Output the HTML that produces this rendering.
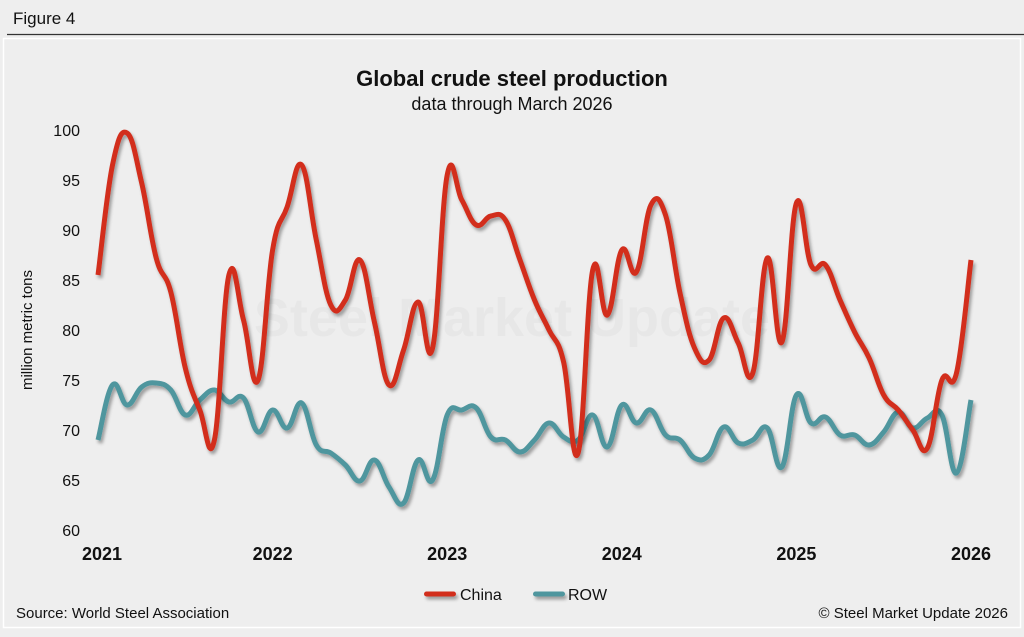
<!DOCTYPE html>
<html><head><meta charset="utf-8"><style>
html,body{margin:0;padding:0;background:#eeeeee;}
body{width:1024px;height:632px;overflow:hidden;font-family:"Liberation Sans",Arial,sans-serif;}
</style></head><body>
<svg id="chart" width="1024" height="632" xmlns="http://www.w3.org/2000/svg" font-family="Liberation Sans, Arial, sans-serif">
<defs>
<filter id="sh" filterUnits="userSpaceOnUse" x="0" y="0" width="1024" height="632"><feDropShadow dx="2" dy="3" stdDeviation="1.6" flood-color="#000" flood-opacity="0.35"/></filter>
</defs>
<rect x="0" y="0" width="1024" height="632" fill="#eeeeee"/>
<text x="13" y="24" font-size="17" fill="#111">Figure 4</text>
<line x1="7" y1="34.5" x2="1024" y2="34.5" stroke="#333" stroke-width="1.2"/>
<rect x="3.5" y="38.5" width="1017" height="589" fill="none" stroke="#ffffff" stroke-width="1.5"/>
<text x="512" y="86" font-size="22" font-weight="bold" text-anchor="middle" fill="#111">Global crude steel production</text>
<text x="512" y="110" font-size="18" text-anchor="middle" fill="#111">data through March 2026</text>
<text x="512" y="336" font-size="54" font-weight="bold" text-anchor="middle" fill="#e4e4e4" opacity="0.6">Steel Market Update</text>
<text transform="translate(32,330) rotate(-90)" font-size="15" text-anchor="middle" fill="#111">million metric tons</text>
<g id="yticks"></g>
<g id="xticks"></g>
<g id="series"></g>
<g>
<rect x="424" y="591.5" width="32" height="5" rx="2.5" fill="#d22d1e" filter="url(#sh)"/>
<text x="460" y="600" font-size="16" fill="#111">China</text>
<rect x="533" y="591.5" width="32" height="5" rx="2.5" fill="#4f969e" filter="url(#sh)"/>
<text x="568" y="600" font-size="16" fill="#111">ROW</text>
</g>
<text x="16" y="618" font-size="15" fill="#111">Source: World Steel Association</text>
<text x="1008" y="618" font-size="15" text-anchor="end" fill="#111">© Steel Market Update 2026</text>
</svg>
<script>
const yTicks=[60,65,70,75,80,85,90,95,100];
const xTickLabels=["2021","2022","2023","2024","2025","2026"];
const xTickMonths=[0,12,24,36,48,60];
const china=[85.5,96.5,99.7,94.7,87.2,83.8,76.2,72,69,85.5,81,75,88,92.3,96.5,89,82.5,83,87,80.8,74.5,78,82.8,78.2,95.5,93,90.5,91.4,91,87,83,80,76.8,67.7,86,81.5,88,85.8,92.5,91.5,83.7,78.2,77,81.2,78.7,75.7,87.2,78.8,92.7,86.5,86.5,83,79.8,77.2,73.5,72,70,68.2,75,75.7,87];
const row=[69,74.5,72.5,74.3,74.7,74,71.5,73,74,72.8,73.2,69.8,72,70.2,72.7,68.5,67.7,66.5,64.9,67,64.3,62.7,67,65,71.5,72,72.2,69.3,69,67.8,69,70.7,69.3,69,71.5,68.3,72.5,70.7,72,69.5,69,67.2,67.5,70.3,68.7,69,70.2,66.3,73.5,70.7,71.3,69.5,69.5,68.5,69.8,71.8,70.2,71.2,71.5,65.7,73];
const NS="http://www.w3.org/2000/svg";
const x0=98,x1=971,nMonths=60;
function xs(i){return x0+(x1-x0)*i/nMonths;}
function ys(v){return 530-(v-60)*10;}
const yg=document.getElementById('yticks');
yTicks.forEach(t=>{
 const el=document.createElementNS(NS,'text');
 el.setAttribute('x',80);el.setAttribute('y',ys(t)+6);
 el.setAttribute('text-anchor','end');el.setAttribute('font-size','16');el.setAttribute('fill','#111');
 el.textContent=t;
 
 
 yg.appendChild(el);
});
const xg=document.getElementById('xticks');
xTickLabels.forEach((lab,k)=>{
 const el=document.createElementNS(NS,'text');
 el.setAttribute('x',xs(xTickMonths[k])+(k===0?4:0));el.setAttribute('y',560);
 el.setAttribute('text-anchor','middle');el.setAttribute('font-size','18');el.setAttribute('font-weight','bold');el.setAttribute('fill','#111');
 el.textContent=lab;
 
 
 xg.appendChild(el);
});
function pathFor(vals){
 const p=vals.map((v,i)=>[xs(i),ys(v)]);
 let d='M'+p[0][0].toFixed(1)+','+p[0][1].toFixed(1);
 for(let i=0;i<p.length-1;i++){
  const a=p[Math.max(0,i-1)],b=p[i],c=p[i+1],e=p[Math.min(p.length-1,i+2)];
  const t=0.2;
  const c1=[b[0]+(c[0]-a[0])*t,b[1]+(c[1]-a[1])*t];
  const c2=[c[0]-(e[0]-b[0])*t,c[1]-(e[1]-b[1])*t];
  d+=' C'+c1[0].toFixed(1)+','+c1[1].toFixed(1)+' '+c2[0].toFixed(1)+','+c2[1].toFixed(1)+' '+c[0].toFixed(1)+','+c[1].toFixed(1);
 }
 return d;
}
const sg=document.getElementById('series');
const rowPath=document.createElementNS(NS,'path');
rowPath.setAttribute('d',pathFor(row));
rowPath.setAttribute('fill','none');rowPath.setAttribute('stroke','#4f969e');rowPath.setAttribute('stroke-width','5');rowPath.setAttribute('stroke-linejoin','round');rowPath.setAttribute('filter','url(#sh)');


sg.appendChild(rowPath);
const chPath=document.createElementNS(NS,'path');
chPath.setAttribute('d',pathFor(china));
chPath.setAttribute('fill','none');chPath.setAttribute('stroke','#d22d1e');chPath.setAttribute('stroke-width','5');chPath.setAttribute('stroke-linejoin','round');chPath.setAttribute('filter','url(#sh)');


sg.appendChild(chPath);
</script>
</body></html>
